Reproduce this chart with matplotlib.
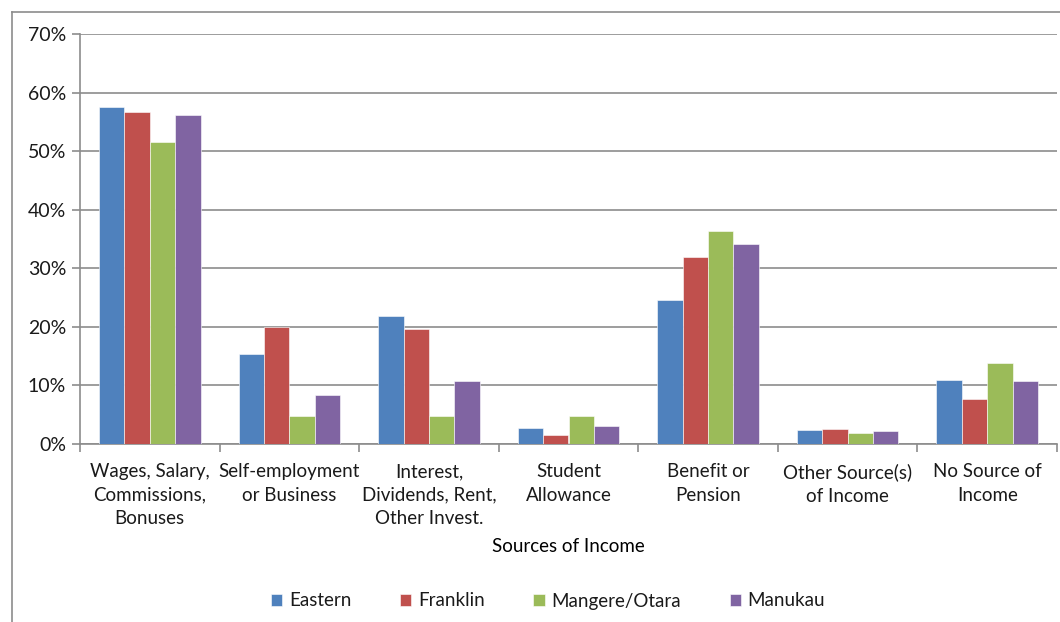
import numpy as np
import matplotlib.pyplot as plt
from matplotlib.lines import Line2D
from matplotlib.ticker import PercentFormatter, FixedLocator

categories = ["Wages, Salary,\nCommissions,\nBonuses", "Self-employment\nor Business",
              "Interest,\nDividends, Rent,\nOther Invest.", "Student\nAllowance",
              "Benefit or\nPension", "Other Source(s)\nof Income", "No Source of\nIncome"]
areas = ["Eastern", "Franklin", "Mangere/Otara", "Manukau"]
eastern = [57.5, 15.4, 21.9, 2.8, 24.6, 2.4, 11.0]
franklin = [56.6, 19.9, 19.6, 1.5, 31.9, 2.6, 7.6]
mangere = [51.6, 4.7, 4.7, 4.7, 36.3, 1.9, 13.8]
manukau = [56.1, 8.4, 10.7, 3.1, 34.2, 2.2, 10.8]
colors = ["#4F81BD", "#C0504D", "#9BBB59", "#8064A2"]

plt.rcParams["font.family"] = ["Lato", "DejaVu Sans"]
plt.rcParams["text.color"] = "#1a1a1a"

fig = plt.figure(figsize=(10.6, 6.22), dpi=100)
ax = fig.add_axes([80 / 1060, 1 - 444 / 622, 977 / 1060, 410 / 622])

# chart border (only left and top visible in the reference)
fig.add_artist(Line2D([12 / 1060, 12 / 1060], [0, 1 - 12 / 622], color="#8c8c8c", lw=1.2))
fig.add_artist(Line2D([12 / 1060, 1], [1 - 12 / 622, 1 - 12 / 622], color="#8c8c8c", lw=1.2))

x = np.arange(len(categories))
w = 1 / 5.5
for i, (vals, name) in enumerate(zip([eastern, franklin, mangere, manukau], areas)):
    ax.bar(x + (i - 1.5) * w, vals, width=w, color=colors[i], label=name,
           edgecolor="white", linewidth=0.4, zorder=3)

ax.set_xlim(-0.5, len(categories) - 0.5)
ax.set_ylim(0, 70)
ax.set_yticks(np.arange(0, 71, 10))
ax.yaxis.set_major_formatter(PercentFormatter(decimals=0))
ax.yaxis.grid(True, color="#8c8c8c", lw=1.2, zorder=0)
ax.set_xticks(x)
ax.set_xticklabels(categories, fontsize=13.5, linespacing=1.45, va="top")
ax.tick_params(axis="x", length=0, pad=14)
ax.xaxis.set_minor_locator(FixedLocator(np.arange(-0.5, len(categories), 1)))
ax.tick_params(axis="x", which="minor", length=6, color="#8c8c8c", width=1.2)
ax.tick_params(axis="y", length=6, color="#8c8c8c", width=1.2, labelsize=14, pad=4,
               labelcolor="#1a1a1a")
ax.tick_params(axis="x", labelcolor="#1a1a1a")

for s in ["top", "right"]:
    ax.spines[s].set_visible(False)
for s in ["left", "bottom"]:
    ax.spines[s].set_color("#8c8c8c")
    ax.spines[s].set_linewidth(1.2)

ax.set_xlabel("Sources of Income", fontsize=13.5, labelpad=8)

fig.legend(loc="center", bbox_to_anchor=(548 / 1060, 1 - 601 / 622), ncol=4,
           frameon=False, fontsize=13.5, handlelength=0.6, handleheight=0.6,
           columnspacing=2.6, handletextpad=0.35)

fig.savefig("out.png", dpi=100)
